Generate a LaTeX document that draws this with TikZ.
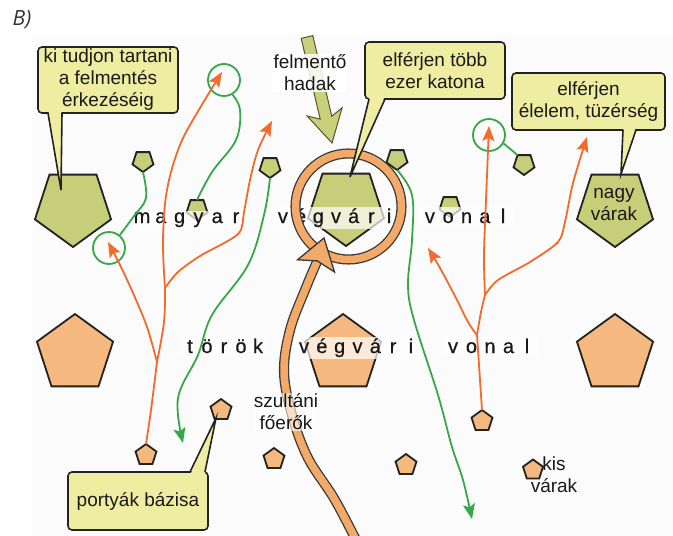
\documentclass[tikz,border=0pt]{standalone}
\usepackage{fontspec}
\setmainfont{Liberation Sans}
\newfontfamily\tagfont{Open Sans}
\newfontfamily\wordfont[FakeBold=0.6]{Liberation Sans}
\usetikzlibrary{shapes.geometric,arrows.meta}
\definecolor{pgreen}{HTML}{C6CE79}
\definecolor{porange}{HTML}{F5B87E}
\definecolor{cfill}{HTML}{EFEDA2}
\definecolor{lorange}{HTML}{F26A2C}
\definecolor{lgreen}{HTML}{36A84A}
\definecolor{ringor}{HTML}{F3AA68}
\definecolor{arrgreen}{HTML}{C9D07C}
\definecolor{edge}{HTML}{222222}
\definecolor{bgc}{HTML}{FBFBFB}
\newlength{\lsp}
\newcommand{\lettr}[1]{\makebox[\lsp]{#1}}
\begin{document}
\begin{tikzpicture}[x=1pt,y=-1pt,
  pent/.style={regular polygon, regular polygon sides=5, draw=edge, line width=1.8pt, inner sep=0pt, outer sep=0pt},
  gpent/.style={pent, fill=pgreen, shape border rotate=180},
  opent/.style={pent, fill=porange},
  bigp/.style={minimum size=80pt},
  smallp/.style={minimum size=22pt},
  lab/.style={font=\fontsize{19}{22}\selectfont, align=center, text=black!90},
  callout/.style={lab, draw=edge, line width=1.6pt, fill=cfill, rounded corners=4pt, inner sep=0pt},
  ptr/.style={draw=edge, line width=1.6pt, line join=miter},
  word/.style={font=\wordfont\fontsize{20}{24}\selectfont, anchor=base, inner sep=1.5pt, fill=white, fill opacity=.7, text opacity=1, text=black!90},
  oarr/.style={draw=lorange, line width=1.8pt, -{Stealth[length=15pt,width=12pt,inset=3pt]}},
  oline/.style={draw=lorange, line width=1.8pt},
  garr/.style={draw=lgreen, line width=1.8pt, -{Stealth[length=15pt,width=12pt,inset=3pt]}},
  gline/.style={draw=lgreen, line width=1.8pt},
  gcirc/.style={circle, draw=lgreen, line width=1.8pt, minimum size=32pt, inner sep=0pt},
  band/.style={draw=edge!90, double=ringor, double distance=7.5pt, line width=1.3pt},
]
\useasboundingbox (0,0) rectangle (673,536);
\fill[bgc] (33,35) rectangle (673,536);
\node[font=\tagfont\itshape\fontsize{21}{24}\selectfont, text=black!80] (tag) at (22,20) {B)};

% relief arrow
\filldraw[fill=arrgreen, draw=olive!50!black, line width=1pt] (301.2,38.4) -- (320.2,119.1) -- (307.1,116.0) -- (332,143) -- (342.1,107.8) -- (331.8,116.3) -- (312.8,35.6) -- cycle;
\node[lab, fill=white, fill opacity=.85, text opacity=1, inner sep=1pt] (relief) at (310,73) {felmentő\\hadak};

% green (Hungarian) castles
\node[gpent, bigp] (G1) at (73,207) {};
\node[gpent, smallp] (G2) at (143,161) {};
\node[gpent, smallp] (G3) at (197,209) {};
\node[gpent, smallp] (G4) at (270,167) {};
\node[gpent, bigp] (G5) at (346,206) {};
\node[gpent, smallp] (G6) at (397,159) {};
\node[gpent, smallp] (G7) at (450,206) {};
\node[gpent, smallp] (G8) at (524,164) {};
\node[gpent, bigp] (G9) at (615,207) {};
% orange (Turkish) castles
\node[opent, bigp] (O1) at (75,354) {};
\node[opent, bigp] (O2) at (343,354) {};
\node[opent, bigp] (O3) at (615,354) {};
\node[opent, smallp] (O4) at (221,410) {};
\node[opent, smallp] (O5) at (146,455) {};
\node[opent, smallp] (O6) at (274,459) {};
\node[opent, smallp] (O7) at (406,465) {};
\node[opent, smallp] (O8) at (482,421) {};
\node[opent, minimum size=21pt] (O9) at (533,470) {};

% spaced words
\node[word] (w1) at (189,223) {\setlength{\lsp}{18.8pt}\lettr m\lettr a\lettr g\lettr y\lettr a\lettr r};
\node[word] (w2) at (336,223) {\setlength{\lsp}{17.7pt}\lettr v\lettr é\lettr g\lettr v\lettr á\lettr r\lettr i};
\node[word] (w3) at (466.5,223) {\setlength{\lsp}{18.3pt}\lettr v\lettr o\lettr n\lettr a\lettr l};
\node[word] (w4) at (224,353) {\setlength{\lsp}{17pt}\lettr t\lettr ö\lettr r\lettr ö\lettr k};
\node[word] (w5) at (357.5,353) {\setlength{\lsp}{17.8pt}\lettr v\lettr é\lettr g\lettr v\lettr á\lettr r\lettr i};
\node[word] (w6) at (490,353) {\setlength{\lsp}{18.5pt}\lettr v\lettr o\lettr n\lettr a\lettr l};

% ring and sultan's main army
\node[circle, band, minimum size=106pt, inner sep=0pt] (ring) at (348.5,206.5) {};
\coordinate (hb) at (317.3,260.9);
\coordinate (hs) at (360,548);
\draw[band] plot[smooth, tension=0.6] coordinates {(hs) (335,500) (308,458) (292,415) (284,372) (290,330) (305,290) (hb)};
\filldraw[fill=ringor, draw=edge!90, line width=1.3pt, line join=miter] (297.5,259.8) -- (324,238) -- (334.5,272) -- (hb) -- cycle;

% green circles
\node[gcirc] (C1) at (224,80) {};
\node[gcirc] (C2) at (109,248) {};
\node[gcirc] (C3) at (489,135) {};

% arrow ends and branch points
\coordinate (S1) at (157,362);
\coordinate (S2) at (165,288);
\coordinate (t1) at (108,242);
\coordinate (t2) at (222,72);
\coordinate (t3) at (272,121);
\coordinate (S3) at (477,335);
\coordinate (S4) at (485,295);
\coordinate (t4) at (428,248);
\coordinate (t5) at (489,126);
\coordinate (t6) at (587,137);
\coordinate (g1) at (183,443);
\coordinate (g2) at (472,519);

% orange raids (left)
\draw[oline] plot[smooth, tension=0.6] coordinates {(O5.north) (151,410) (S1)};
\draw[oarr] plot[smooth, tension=0.6] coordinates {(S1) (147,327) (133,293) (120,265) (t1)};
\draw[oline] plot[smooth, tension=0.6] coordinates {(S1) (164,322) (S2)};
\draw[oarr] plot[smooth, tension=0.6] coordinates {(S2) (163,240) (167,190) (180,145) (200,108) (t2)};
\draw[oarr] plot[smooth, tension=0.5] coordinates {(S2) (178,272) (200,256) (238,234) (244,212) (250,180) (258,150) (t3)};
% orange raids (right)
\draw[oline] plot[smooth, tension=0.6] coordinates {(O8.north) (480,380) (S3)};
\draw[oarr] plot[smooth, tension=0.6] coordinates {(S3) (468,322) (456,298) (440,268) (t4)};
\draw[oline] plot[smooth, tension=0.6] coordinates {(S3) (481,312) (S4)};
\draw[oarr] plot[smooth, tension=0.6] coordinates {(S4) (484,255) (486,200) (t5)};
\draw[oarr] plot[smooth, tension=0.5] coordinates {(S4) (498,280) (530,262) (558,242) (565,222) (573,183) (t6)};

% green raids
\draw[garr] plot[smooth, tension=0.6] coordinates {(G4.south) (264,215) (248,265) (212,315) (198,355) (178,398) (g1)};
\draw[garr] plot[smooth, tension=0.6] coordinates {(G6.south) (412,195) (412,240) (408,285) (414,320) (438,395) (452,447) (463,480) (g2)};
\draw[gline] plot[smooth, tension=0.6] coordinates {(C1.-60) (240,110) (236,140) (212,172) (G3.north)};
\draw[gline] plot[smooth, tension=0.6] coordinates {(G2.south) (146,198) (134,216) (C2.50)};
\draw[gline] (C3.-30) .. controls (510,150) .. (G8.corner 4);

% callouts
\node[callout, minimum width=140pt, minimum height=66pt] (c1) at (108,80) {ki tudjon tartani\\a felmentés\\érkezéséig};
\coordinate (p1) at (61,190);
\fill[cfill] (48.5,111) -- (p1) -- (61.5,111) -- cycle;
\draw[ptr] (48,113) -- (p1) -- (62,113);

\node[callout, minimum width=140pt, minimum height=57pt] (c2) at (435,70.5) {elférjen több\\ezer katona};
\coordinate (p2) at (350,177);
\fill[cfill] (369.5,97) -- (p2) -- (384.5,97) -- cycle;
\draw[ptr] (369,99) -- (p2) -- (385,99);

\node[callout, minimum width=153pt, minimum height=57pt] (c3) at (588.5,101.5) {elférjen\\élelem, tüzérség};
\coordinate (p3) at (621,174);
\fill[cfill] (623.5,128) -- (p3) -- (635.5,128) -- cycle;
\draw[ptr] (623,130) -- (p3) -- (636,130);

\node[callout, minimum width=140pt, minimum height=58pt] (c4) at (138,501) {portyák bázisa};
\coordinate (p4) at (216,418);
\fill[cfill] (190.5,474) -- (p4) -- (204.5,474) -- cycle;
\draw[ptr] (190,472) -- (p4) -- (205,472);

% other labels
\node[lab] (big) at (614,204) {nagy\\várak};
\node[lab, fill=white, fill opacity=.6, text opacity=1, inner sep=1pt] (sultan) at (286,412) {szultáni\\főerők};
\node[lab, inner sep=1pt] (small) at (554,475) {kis\\várak};
\end{tikzpicture}
\end{document}
